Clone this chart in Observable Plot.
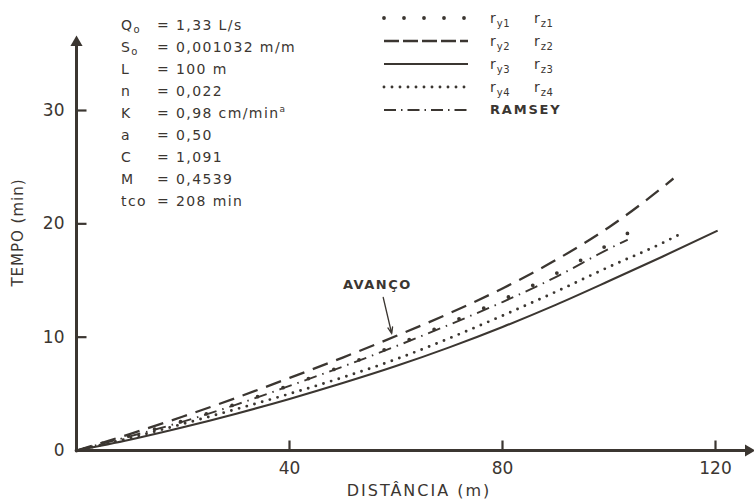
<!DOCTYPE html>
<html>
<head>
<meta charset="utf-8">
<script src="https://cdn.jsdelivr.net/npm/d3@7"></script>
<script src="https://cdn.jsdelivr.net/npm/@observablehq/plot@0.6"></script>
<style>
  html, body { margin: 0; padding: 0; background: #fff; }
  #wrap { position: relative; width: 754px; height: 500px; font-family: "DejaVu Sans", sans-serif; color: #3b3631; }
  #params { position: absolute; left: 121px; top: 14px; font-size: 14px; letter-spacing: 1.4px; }
  #params .row { height: 22px; line-height: 22px; display: flex; white-space: nowrap; }
  #params .sym { width: 36px; }
  #params .eq { width: 19px; }
  #params sub { font-size: 10px; vertical-align: baseline; position: relative; top: 3px; letter-spacing: 0; }
  #params sup { font-size: 9px; vertical-align: baseline; position: relative; top: -6px; letter-spacing: 0; }
  #legend { position: absolute; left: 380px; top: 6px; font-size: 14px; letter-spacing: 1px; }
  #legend .row { height: 23px; display: flex; align-items: center; white-space: nowrap; }
  #legend svg { display: block; margin-right: 18px; }
  #legend .ry { width: 44px; }
  #legend sub { font-size: 10px; vertical-align: baseline; position: relative; top: 4px; letter-spacing: 0.5px; }
  #legend .ram { font-size: 13px; font-weight: bold; letter-spacing: 1.8px; }
</style>
</head>
<body>
<div id="wrap">
  <div id="chart"></div>
  <div id="params"></div>
  <div id="legend"></div>
</div>
<script>
// ---------- data ----------
const xTicks = [40, 80, 120];
const yTicks = [0, 10, 20, 30];
const yTickMarks = [10, 20, 30];

const dist_ry1 = [0, 10, 20, 30, 40, 50, 60, 70, 80, 90, 100, 105.4];
const tempo_ry1 = [0, 1.3, 2.6, 4.1, 5.75, 7.45, 9.3, 11.25, 13.3, 15.6, 18.2, 19.7];

const dist_ry2 = [0, 10, 20, 30, 40, 50, 60, 70, 80, 90, 100, 110, 112.1];
const tempo_ry2 = [0, 1.45, 3.0, 4.65, 6.4, 8.2, 10.1, 12.1, 14.3, 16.8, 19.7, 23.2, 24.0];

const dist_ry3 = [0, 10, 20, 30, 40, 50, 60, 70, 80, 90, 100, 110, 120.4];
const tempo_ry3 = [0, 0.95, 2.05, 3.25, 4.55, 5.95, 7.45, 9.1, 10.9, 12.85, 14.95, 17.1, 19.4];

const dist_ry4 = [0, 10, 20, 30, 40, 50, 60, 70, 80, 90, 100, 110, 113.4];
const tempo_ry4 = [0, 1.1, 2.35, 3.65, 5.0, 6.45, 8.05, 9.9, 11.9, 14.0, 16.2, 18.3, 19.1];

const dist_ramsey = [0, 10, 20, 30, 40, 50, 60, 70, 80, 90, 100, 103.5];
const tempo_ramsey = [0, 1.25, 2.55, 4.05, 5.7, 7.4, 9.2, 11.1, 13.1, 15.3, 17.8, 18.6];

const seriesKeys = ["ry1", "ry2", "ry3", "ry4", "ramsey"];
const legendSubY = ["y1", "y2", "y3", "y4"];
const legendSubZ = ["z1", "z2", "z3", "z4"];
const ramseyLabel = "RAMSEY";

const paramSymbols = ["Q", "S", "L", "n", "K", "a", "C", "M", "tco"];
const paramSubs = ["o", "o", "", "", "", "", "", "", ""];
const paramValues = ["1,33 L/s", "0,001032 m/m", "100 m", "0,022", "0,98 cm/min", "0,50", "1,091", "0,4539", "208 min"];
const paramSups = ["", "", "", "", "a", "", "", "", ""];

const xLabel = "DISTÂNCIA (m)";
const yLabel = "TEMPO (min)";
const annotText = ["AVANÇO"];
const annotX = [56.5];
const annotY = [14.65];
const annotArrowFrom = [[57.6, 13.5]];
const annotArrowTo = [[59.2, 10.3]];
const xAxisEnd = [126.2];
const yAxisEnd = [36.0];

// ---------- layout & styles ----------
const W = 754, H = 500, mL = 76, mR = 39, mT = 110, mB = 50;
const xDomain = [0, 120], yDomain = [0, 30];
const tickLen = 10; // px
const tickLenY = tickLen * (yDomain[1] - yDomain[0]) / (H - mT - mB);
const tickLenX = tickLen * (xDomain[1] - xDomain[0]) / (W - mL - mR);

const ink = "#3b3631";
const styles = {
  ry1:    {dash: "0 27", width: 3.8, cap: "round", legendDash: "0 20"},
  ry2:    {dash: "16 9", width: 2.3, cap: "butt", legendDash: "15 4"},
  ry3:    {dash: null,   width: 2.1, cap: "butt", legendDash: null},
  ry4:    {dash: "0 8",  width: 2.9, cap: "round", legendDash: "0 8"},
  ramsey: {dash: "13 6 1.5 6", width: 1.9, cap: "butt", legendDash: "12 5 1.5 5"}
};

const seriesData = {
  ry1: dist_ry1.map((d, i) => ({dist: d, tempo: tempo_ry1[i]})),
  ry2: dist_ry2.map((d, i) => ({dist: d, tempo: tempo_ry2[i]})),
  ry3: dist_ry3.map((d, i) => ({dist: d, tempo: tempo_ry3[i]})),
  ry4: dist_ry4.map((d, i) => ({dist: d, tempo: tempo_ry4[i]})),
  ramsey: dist_ramsey.map((d, i) => ({dist: d, tempo: tempo_ramsey[i]}))
};

const lineMarks = seriesKeys.map(k => Plot.line(seriesData[k], {
  x: "dist", y: "tempo", curve: "monotone-x",
  stroke: ink, strokeWidth: styles[k].width,
  strokeDasharray: styles[k].dash, strokeLinecap: styles[k].cap
}));

const annot = annotText.map((t, i) => ({t, x: annotX[i], y: annotY[i],
  x1: annotArrowFrom[i][0], y1: annotArrowFrom[i][1], x2: annotArrowTo[i][0], y2: annotArrowTo[i][1]}));

const xTickRows = xTicks.map(v => ({x: v, y1: 0, y2: tickLenY}));
const yTickRows = yTickMarks.map(v => ({y: v, x1: 0, x2: tickLenX}));

const chart = Plot.plot({
  width: W, height: H,
  marginLeft: mL, marginRight: mR, marginTop: mT, marginBottom: mB,
  x: {domain: xDomain},
  y: {domain: yDomain},
  style: {fontFamily: "DejaVu Sans, sans-serif", color: ink, background: "white", overflow: "visible"},
  marks: [
    Plot.axisX({ticks: xTicks, tickSize: 0, tickPadding: 11, label: null, fontSize: 17, tickFormat: d => String(d)}),
    Plot.axisY({ticks: yTicks, tickSize: 0, tickPadding: 12, label: null, fontSize: 17, tickFormat: d => String(d)}),
    Plot.ruleY([0], {x1: 0, x2: xAxisEnd[0], stroke: ink, strokeWidth: 3}),
    Plot.ruleX([0], {y1: 0, y2: yAxisEnd[0], stroke: ink, strokeWidth: 3}),
    // inward tick marks
    Plot.link(xTickRows, {x1: "x", x2: "x", y1: "y1", y2: "y2", stroke: ink, strokeWidth: 2.2}),
    Plot.link(yTickRows, {x1: "x1", x2: "x2", y1: "y", y2: "y", stroke: ink, strokeWidth: 2.2}),
    Plot.dot(xAxisEnd, {x: d => d, y: 0, symbol: "triangle", r: 4.5, fill: ink, stroke: null, rotate: 90}),
    Plot.dot(yAxisEnd, {x: 0, y: d => d, symbol: "triangle", r: 4.5, fill: ink, stroke: null}),
    ...lineMarks,
    Plot.text(annot, {x: "x", y: "y", text: "t", fontSize: 13, fontWeight: "bold", fill: ink}),
    Plot.arrow(annot, {x1: "x1", y1: "y1", x2: "x2", y2: "y2", stroke: ink, strokeWidth: 1.3, headLength: 8, headAngle: 40}),
    Plot.text([xLabel], {frameAnchor: "bottom", textAnchor: "middle", lineAnchor: "middle", dx: 23, dy: 40, fontSize: 16, fill: ink}),
    Plot.text([yLabel], {frameAnchor: "left", textAnchor: "middle", lineAnchor: "middle", rotate: -90, dx: -58, dy: -48, fontSize: 15, fill: ink})
  ]
});
document.getElementById("chart").appendChild(chart);
chart.querySelectorAll("text").forEach(t => {
  const s = t.textContent;
  if (s === xLabel) t.setAttribute("letter-spacing", "2");
  if (s === yLabel) t.setAttribute("letter-spacing", "1");
  if (s === annotText[0]) t.setAttribute("letter-spacing", "1.5");
});

// ---------- parameter block ----------
const params = document.getElementById("params");
paramSymbols.forEach((s, i) => {
  const row = document.createElement("div");
  row.className = "row";
  row.innerHTML = `<span class="sym">${s}${paramSubs[i] ? `<sub>${paramSubs[i]}</sub>` : ""}</span>` +
    `<span class="eq">=</span><span>${paramValues[i]}${paramSups[i] ? `<sup>${paramSups[i]}</sup>` : ""}</span>`;
  params.appendChild(row);
});

// ---------- legend ----------
const legend = document.getElementById("legend");
seriesKeys.forEach((k, i) => {
  const st = styles[k];
  const row = document.createElement("div");
  row.className = "row";
  const svg = `<svg width="92" height="12"><line x1="4" x2="88" y1="6" y2="6" stroke="${ink}" stroke-width="${st.width}"` +
    (st.legendDash ? ` stroke-dasharray="${st.legendDash}"` : "") + ` stroke-linecap="${st.cap}"/></svg>`;
  const label = k === "ramsey"
    ? `<span class="ram">${ramseyLabel}</span>`
    : `<span class="ry">r<sub>${legendSubY[i]}</sub></span><span>r<sub>${legendSubZ[i]}</sub></span>`;
  row.innerHTML = svg + label;
  legend.appendChild(row);
});
</script>
</body>
</html>
